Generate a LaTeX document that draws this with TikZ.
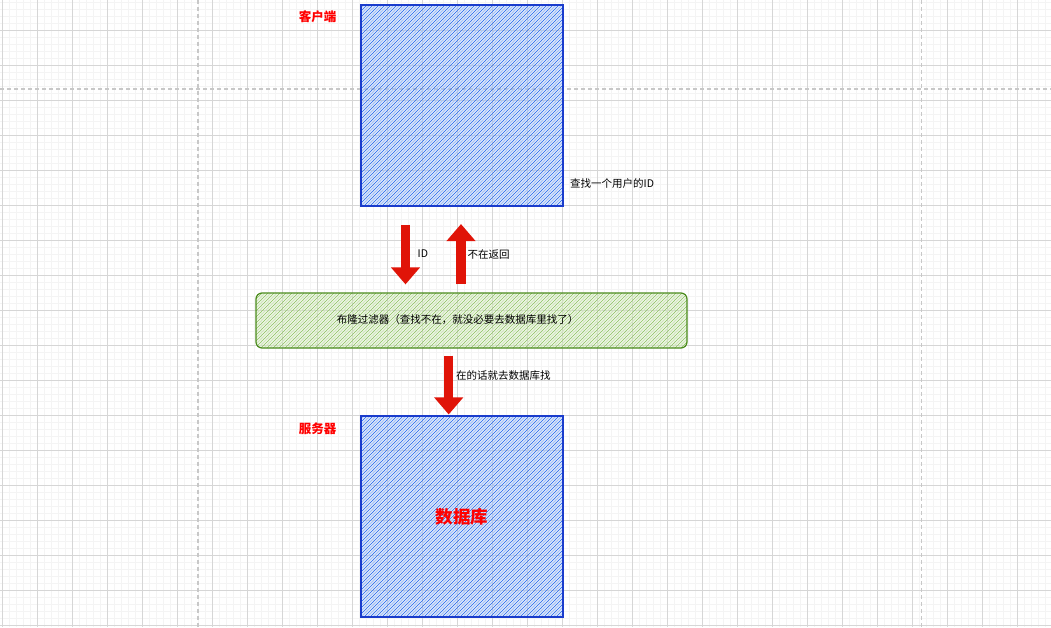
\documentclass[tikz,border=0pt]{standalone}
\usepackage{fontspec}
\newfontfamily\cjk{Noto Sans CJK SC}
\usetikzlibrary{arrows.meta,calc}
\definecolor{boxblue}{HTML}{1A3CCC}
\definecolor{hatchA}{HTML}{3F7BEE}
\definecolor{hatchB}{HTML}{A2C0F6}
\definecolor{grnstroke}{HTML}{4A8B1C}
\definecolor{hatchG}{HTML}{9CCB74}
\definecolor{hatchG2}{HTML}{CFE6BA}
\definecolor{arrred}{HTML}{E01408}
\definecolor{majgrid}{HTML}{D6D6D6}
\definecolor{mingrid}{HTML}{F4F4F4}
\definecolor{dashgray}{HTML}{C8C8C8}
\tikzset{
  bluebox/.style={draw=boxblue, line width=1.1pt, inner sep=0pt,
    path picture={
      \foreach \i in {0,6,...,480}{
        \draw[hatchB,line width=1.1pt] ([shift={(\i+3,0)}]path picture bounding box.north west) -- ++(-260,260);
        \draw[hatchA,line width=0.75pt] ([shift={(\i,0)}]path picture bounding box.north west) -- ++(-260,260);
      }}},
  greenbox/.style={draw=grnstroke, line width=1.2pt, rounded corners=6pt, inner sep=0pt,
    path picture={
      \foreach \i in {0,6,...,500}{
        \draw[hatchG2,line width=1.1pt] ([shift={(\i+3,0)}]path picture bounding box.north west) -- ++(-80,80);
        \draw[hatchG,line width=0.75pt] ([shift={(\i,0)}]path picture bounding box.north west) -- ++(-80,80);
      }}},
  bigarrow/.style={draw=arrred, line width=9.5pt, -{Triangle[width=28pt,length=17pt]}, arrred},
  redlabel/.style={font=\cjk\fontsize{12.5}{14}\selectfont\bfseries, text=red, inner sep=0pt},
  smalllabel/.style={font=\cjk\fontsize{10.5}{12}\selectfont, text=black, inner sep=0pt},
  majorline/.style={draw=majgrid, line width=0.9pt},
  minorline/.style={draw=mingrid, line width=0.9pt},
  dashline/.style={draw=dashgray, line width=1.1pt, dash pattern=on 3.5pt off 3.5pt},
}
\begin{document}
\begin{tikzpicture}[x=1pt,y=-1pt]
\useasboundingbox (0,0) rectangle (1051,627);
\fill[white] (0,0) rectangle (1051,627);
% minor grid
\foreach \x in {2.3,9.3,...,1051}{\draw[minorline] (\x,0) -- (\x,627);}
\foreach \y in {2.5,9.5,...,627}{\draw[minorline] (0,\y) -- (1051,\y);}
% major grid
\foreach \x in {2.3,37.3,...,1051}{\draw[majorline] (\x,0) -- (\x,627);}
\foreach \y in {-4.5,30.5,...,627}{\draw[majorline] (0,\y) -- (1051,\y);}
% page dashes
\draw[dashline] (198,0) -- (198,627);
\draw[dashline] (921.7,0) -- (921.7,627);
\draw[dashline] (0,89) -- (1051,89);

% boxes
\node[bluebox, minimum width=202pt, minimum height=201pt] (client) at (462,105.5) {};
\node[bluebox, minimum width=202pt, minimum height=201pt] (db) at (462,516.5) {};
\node[greenbox, minimum width=431pt, minimum height=55pt] (bf) at (471.5,320.5) {};

% labels
\node[redlabel] (clientlbl) at (317.5,17) {客户端};
\node[redlabel] (serverlbl) at (317.5,429) {服务器};
\node[font=\cjk\fontsize{17.5}{20}\selectfont\bfseries, text=red, inner sep=0pt] (dblbl) at (db.center) {数据库};
\node[smalllabel, anchor=west] (querylbl) at (570,184) {查找一个用户的ID};
\node[smalllabel] (bftext) at (457.5,320) {布隆过滤器（查找不在，就没必要去数据库里找了）};

% arrows
\draw[bigarrow] ($(client.south)+(-56.5,18)$) coordinate (a1s) -- ($(bf.north)+(-66,-8)$) coordinate (a1e);
\draw[bigarrow] ($(bf.north)+(-10.5,-8)$) coordinate (a2s) -- ($(client.south)+(-1,17.5)$) coordinate (a2e);
\draw[bigarrow] ($(bf.south)+(-22.8,7)$) coordinate (a3s) -- ($(db.north)+(-13.3,-1)$) coordinate (a3e);

\node[smalllabel, anchor=west] (idlbl) at (417.5,254) {ID};
\node[smalllabel, anchor=west] (retlbl) at (467.5,254) {不在返回};
\node[smalllabel, anchor=west] (golbl) at (456,376) {在的话就去数据库找};
\end{tikzpicture}
\end{document}
